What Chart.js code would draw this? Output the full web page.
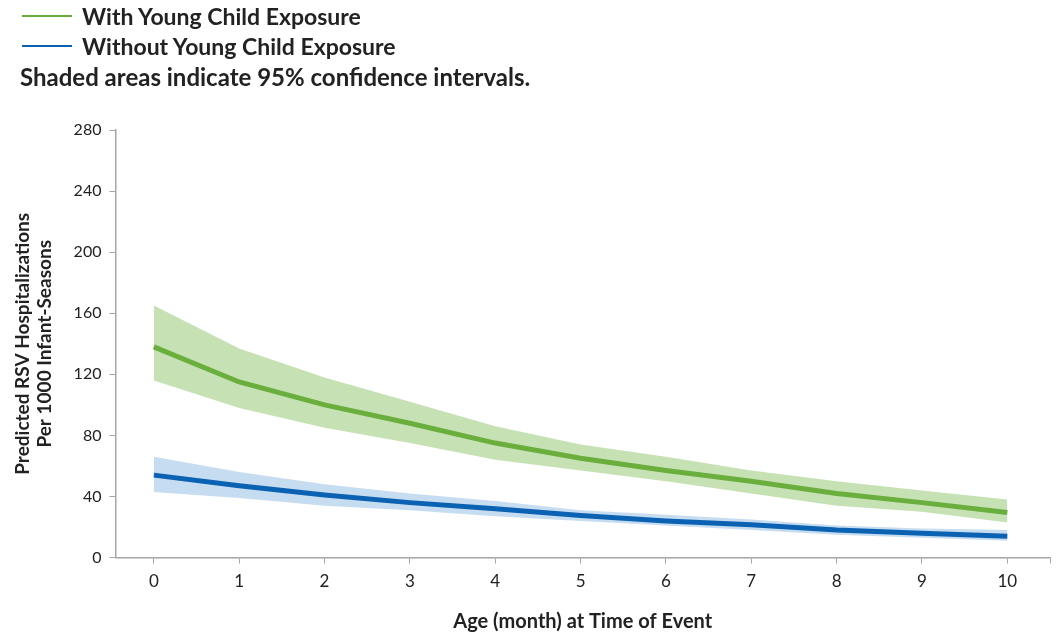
<!DOCTYPE html>
<html>
<head>
<meta charset="utf-8">
<script src="https://cdn.jsdelivr.net/npm/chart.js@4/dist/chart.umd.min.js"></script>
<style>
  html, body { margin: 0; padding: 0; background: #fff; }
  #wrap { position: relative; width: 1058px; height: 638px; }
  #legend {
    position: absolute; left: 20px; top: 1px;
    font-family: Lato, "Open Sans", sans-serif; font-weight: bold; color: #222;
  }
  .item { display: flex; align-items: center; height: 30px; font-size: 23px; }
  .swatch { width: 50px; height: 2px; margin: 0 10px 0 2px; }
  .note { font-size: 24px; height: 32px; line-height: 32px; }
</style>
</head>
<body>
<div id="wrap">
  <canvas id="chart" width="1058" height="638"></canvas>
  <div id="legend"></div>
</div>
<script>
'use strict';

// months on the x axis
let months = [0, 1, 2, 3, 4, 5, 6, 7, 8, 9, 10];

// with young child exposure
let withMid = [138, 115, 100, 88, 75, 65, 57, 50, 42, 36, 29.5];
let withUpper = [165, 137, 118, 102, 86, 74, 66, 57, 50, 44, 38];
let withLower = [116, 98, 85, 75, 64, 57, 50, 42, 34, 30, 23];

// without young child exposure
let withoutMid = [54, 47, 41, 36, 32, 27.5, 24, 21.5, 18, 16, 14];
let withoutUpper = [66, 56, 48, 42, 37, 31, 28, 25, 21, 19, 18];
let withoutLower = [43, 39, 34, 31, 27, 24, 21, 18, 15, 13, 11];

let yTicks = [0, 40, 80, 120, 160, 200, 240, 280];

let seriesNames = ['With Young Child Exposure', 'Without Young Child Exposure'];
let noteText = 'Shaded areas indicate 95% confidence intervals.';

const green = '#6AAF3D';
const greenBand = 'rgba(160, 207, 130, 0.6)';
const blue = '#0C62B2';
const blueBand = 'rgba(160, 197, 232, 0.6)';

function pts(vals) {
    return vals.map((v, i) => ({ x: months[i], y: v }));
}

function bandSet(vals, color, fill) {
    return {
        data: pts(vals),
        borderWidth: 0,
        pointRadius: 0,
        backgroundColor: color,
        fill: fill,
        tension: 0
    };
}

// html legend
let legendElem = document.getElementById('legend');
[green, blue].forEach((c, i) => {
    let row = document.createElement('div');
    row.className = 'item';
    row.innerHTML = '<span class="swatch" style="background:' + c + '"></span>' + seriesNames[i];
    legendElem.appendChild(row);
});
let note = document.createElement('div');
note.className = 'note';
note.textContent = noteText;
legendElem.appendChild(note);

const axisColor = '#A6A6A6';
const font = { family: 'Lato, "Open Sans", sans-serif' };

let chartObj = {
    type: 'line',
    data: {
        datasets: [
            { label: seriesNames[0], data: pts(withMid), borderColor: green, borderWidth: 5, pointRadius: 0, fill: false, tension: 0 },
            { label: seriesNames[1], data: pts(withoutMid), borderColor: blue, borderWidth: 5, pointRadius: 0, fill: false, tension: 0 },
            bandSet(withUpper, greenBand, '+1'),
            bandSet(withLower, greenBand, false),
            bandSet(withoutUpper, blueBand, '+1'),
            bandSet(withoutLower, blueBand, false)
        ]
    },
    options: {
        responsive: false,
        animation: false,
        layout: { padding: { top: 130, left: 11, right: 6, bottom: 4 } },
        plugins: {
            legend: { display: false },
            tooltip: { enabled: false }
        },
        scales: {
            x: {
                type: 'linear',
                min: -0.45,
                max: 10.5,
                afterBuildTicks: (scale) => {
                    scale.ticks = months.map(v => ({ value: v })).concat([{ value: 10.5 }]);
                },
                ticks: {
                    color: '#222',
                    font: { ...font, size: 17 },
                    padding: 8,
                    maxRotation: 0,
                    callback: (v) => Number.isInteger(v) ? String(v) : ''
                },
                grid: { drawOnChartArea: false, color: axisColor, tickLength: 6 },
                border: { color: axisColor, width: 1.5 },
                title: {
                    display: true,
                    text: 'Age (month) at Time of Event',
                    color: '#222',
                    font: { ...font, size: 20, weight: 'bold' },
                    padding: { top: 10, bottom: 0 }
                }
            },
            y: {
                min: 0,
                max: 280,
                afterBuildTicks: (scale) => {
                    scale.ticks = yTicks.map(v => ({ value: v }));
                },
                ticks: {
                    color: '#222',
                    font: { ...font, size: 16 },
                    padding: 8
                },
                grid: { drawOnChartArea: false, color: axisColor, tickLength: 6 },
                border: { color: axisColor, width: 1.5 },
                title: {
                    display: true,
                    text: ['Predicted RSV Hospitalizations', 'Per 1000 Infant-Seasons'],
                    color: '#222',
                    font: { ...font, size: 19, weight: 'bold' },
                    padding: { top: 0, bottom: 9 }
                }
            }
        }
    }
};

new Chart(document.getElementById('chart'), chartObj);
</script>
</body>
</html>
